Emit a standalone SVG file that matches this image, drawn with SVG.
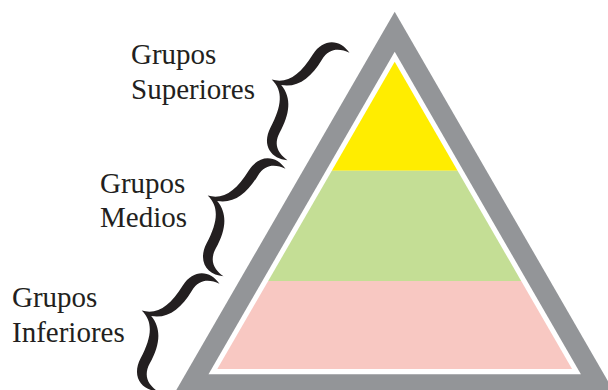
<svg xmlns="http://www.w3.org/2000/svg" width="608" height="390" viewBox="0 0 608 390">
  <defs>
    <style>
      .lbl { font-family: "Liberation Serif", "Times New Roman", serif; font-size: 29px; fill: #231F20; }
      .brace { fill: #231F20; }
    </style>
    <path id="brace" d="M 4,-62 C -10,-69 -26,-63 -27,-42 C -28,-18 -34,-4 -50,0 C -34,4 -28,18 -27,42 C -26,63 -10,69 4,62 C -6,61 -16,57 -16.5,42 C -17,21 -23,6 -39,0 C -23,-6 -17,-21 -16.5,-42 C -16,-57 -6,-61 4,-62 Z"/>
  </defs>
  <rect width="608" height="390" fill="#FFFFFF"/>
  <g id="pyramid">
    <polygon points="394.7,11.7 615.4,394 174,394" fill="#939598"/>
    <polygon points="394.7,51.7 580.9,374.3 208.5,374.3" fill="#FFFFFF"/>
    <polygon id="tier-top" points="394.7,61.7 457.6,170.7 331.8,170.7" fill="#FFED00"/>
    <polygon id="tier-mid" points="331.8,170.7 457.6,170.7 521.2,281 268.2,281" fill="#C4DE95"/>
    <polygon id="tier-bottom" points="268.2,281 521.2,281 572.1,369 217.3,369" fill="#F8C8C2"/>
  </g>
  <g id="connectors">
    <use href="#brace" class="brace" transform="translate(315,104.5) rotate(30)"/>
    <use href="#brace" class="brace" transform="translate(251,220.5) rotate(30)"/>
    <use href="#brace" class="brace" transform="translate(185,335.5) rotate(30)"/>
  </g>
  <g id="grupos-superiores">
    <text class="lbl" x="131" y="64">Grupos</text>
    <text class="lbl" x="131" y="99">Superiores</text>
  </g>
  <g id="grupos-medios">
    <text class="lbl" x="100" y="193">Grupos</text>
    <text class="lbl" x="100" y="227">Medios</text>
  </g>
  <g id="grupos-inferiores">
    <text class="lbl" x="12" y="307">Grupos</text>
    <text class="lbl" x="12" y="342">Inferiores</text>
  </g>
</svg>
